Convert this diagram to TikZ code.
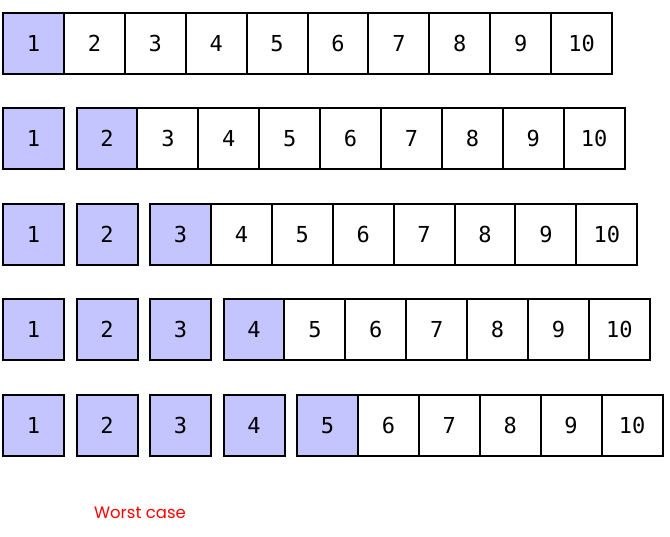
\documentclass[tikz,border=0pt]{standalone}
\usepackage{fontspec}
\setmainfont{DejaVu Sans Mono}
\newfontfamily\labelfont{Poppins}
\definecolor{lav}{RGB}{196,196,255}
\definecolor{wred}{RGB}{255,0,0}
\begin{document}
\begin{tikzpicture}[x=1pt,y=-1pt,
  cell/.style={draw=black,line width=2pt,minimum width=61pt,minimum height=61pt,inner sep=0pt,outer sep=0pt,anchor=north west,text height=16pt,text depth=0pt,font=\fontsize{22}{26}\selectfont},
  hot/.style={cell,fill=lav},
  cold/.style={cell,fill=white}]
\useasboundingbox (0,0) rectangle (670,537);
\foreach \r in {1,...,5}{
  \pgfmathsetmacro{\yy}{13+(\r-1)*95.5}
  \foreach \i in {1,...,10}{
    \pgfmathsetmacro{\xx}{3+(\i-1)*60.9+min(\i-1,\r-1)*12.6}
    \ifnum\i>\r
      \node[cold] (c\r-\i) at (\xx,\yy) {\i};
    \else
      \node[hot] (c\r-\i) at (\xx,\yy) {\i};
    \fi
  }
}
\node[text=wred,font=\labelfont\fontsize{16.5}{19}\selectfont] (wc) at (140,513) {Worst case};
\end{tikzpicture}
\end{document}
